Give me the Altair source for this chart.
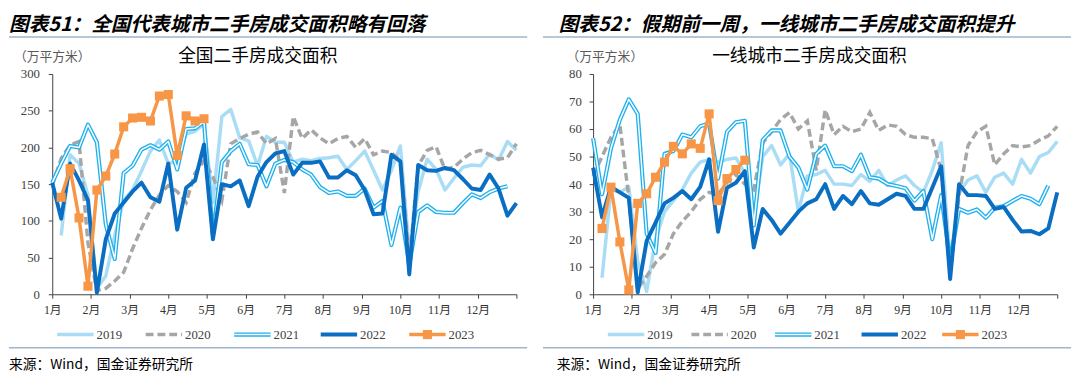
import json
import altair as alt
import pandas as pd

# ---------------- data ----------------
MONTH_LABELS = ["1月", "2月", "3月", "4月", "5月", "6月", "7月", "8月", "9月", "10月", "11月", "12月"]
WEEKS = list(range(53))
SERIES = ["2019", "2020", "2021", "2022", "2023"]

L2019 = [None, 80, 190, 178, 135, 8, 25, 80, 128, 142, 168, 195, 210, 178, 182, 218, 222, 232, 125, 242,
         252, 213, 209, 175, 215, 207, 207, 180, 184, 182, 185, 186, 188, 170, 182, 195, 169, 142, 169, 202,
         58, 140, 184, 170, 142, 158, 173, 176, 175, 191, 183, 208, 196]
L2020 = [148, 185, 203, 208, 70, 5, 8, 18, 30, 62, 90, 115, 135, 148, 140, 125, 165, 182, 160, 128,
         205, 212, 218, 221, 205, 212, 138, 242, 212, 224, 213, 205, 212, 215, 200, 212, 190, 195, 193, 182,
         45, 175, 196, 201, 170, 173, 184, 193, 196, 190, 184, 186, 205]
L2021 = [152, 178, 202, 200, 231, 207, 95, 48, 165, 175, 197, 203, 197, 208, 170, 225, 226, 235, 80, 180,
         195, 205, 177, 176, 147, 178, 183, 180, 170, 163, 146, 138, 140, 134, 134, 144, 118, 127, 67, 118,
         40, 112, 121, 112, 111, 111, 124, 136, 131, 139, 144, 147, None]
L2022 = [152, 103, 178, 155, 128, 2, 75, 110, 125, 140, 152, 132, 126, 178, 88, 145, 155, 204, 75, 150,
         147, 155, 120, 160, 180, 192, 195, 163, 179, 179, 181, 159, 159, 169, 162, 142, 109, 110, 190, 181,
         27, 176, 169, 168, 172, 169, 157, 144, 142, 163, 144, 107, 124]
L2023 = [None, 132, 171, 104, 11, 142, 161, 191, 228, 240, 241, 236, 270, 272, 189, 243, 236, 239]

R2019 = [None, 6, 38, 37, 39, 12, 1, 20, 30, 34, 38, 44, 48, 49, 48, 49, 49.5, 44, 27, 50,
         54, 47, 51, 30, 43, 43.5, 45, 40, 40, 39.5, 43.5, 41, 45, 39.5, 41.5, 43, 39.5, 37, 45, 55,
         12, 37, 41.5, 43, 37, 42.5, 44, 40, 49, 44, 50, 51.5, 55.5]
R2020 = [43, 50, 57, 61.5, 35, 2, 6.5, 11.5, 14.5, 22, 26.5, 30, 34.5, 37, 36.3, 40.5, 43.5, 40, 38, 55,
         59, 63.5, 66, 60, 63, 45, 67, 58, 61, 59, 60, 66, 59.5, 61.5, 61, 58, 57, 57, 56.5, 45,
         8, 36, 54, 59, 61, 47, 51, 54, 53.5, 54, 56, 57.5, 61]
R2021 = [56.7, 36.3, 53, 63.4, 70.8, 65.5, 22, 15, 51, 52, 58, 57, 61, 62, 42, 59, 62.5, 63, 25, 56,
         59.5, 59.5, 50, 46, 38, 51, 54, 46.5, 46.5, 44.7, 50.7, 42.5, 42, 40, 39.3, 38.5, 34, 37.5, 20, 36,
         12, 31, 29.6, 30.8, 27.8, 31.4, 32, 33.9, 35.7, 34.7, 32.7, 39.5, None]
R2022 = [46, 28, 39, 37, 35, 0.7, 19.4, 26, 33, 35, 37.5, 34.5, 39, 49, 22.7, 38.7, 40.5, 44.7, 17, 31,
         27, 22, 26, 30, 33, 34.5, 40, 31, 35.7, 32.7, 37.5, 33, 32.5, 34.5, 36.5, 35.7, 31, 31, 38.7, 46.5,
         5.5, 40, 36, 36, 35.7, 31, 31.7, 27, 22.8, 23, 21.8, 23.9, 37]
R2023 = [None, 23.9, 38.9, 19, 1.6, 33, 36.5, 42.5, 48, 53.7, 51, 54.6, 53, 65.5, 34, 42, 45.3, 48.7]

HEADERS = ["图表51：全国代表城市二手房成交面积略有回落", "图表52：假期前一周，一线城市二手房成交面积提升"]
CHART_TITLES = ["全国二手房成交面积", "一线城市二手房成交面积"]
UNIT = "（万平方米）"
SOURCE = "来源：Wind，国金证券研究所"

# ---------------- style ----------------
CJK = "Noto Sans CJK SC"
SERIF = "Liberation Serif, Noto Sans CJK SC"
C2019 = "#a9ddf5"
C2020 = "#a6a6a6"
C2021 = "#1eb1ee"
C2022 = "#0a6fc2"
C2023 = "#f79646"
AXC = "#404040"
RULEC = "#9fb5ca"
W, H = 472, 224
ONE = pd.DataFrame({"k": [0]})


def series_df(vals):
    rows = [{"m": w * 12 / 52, "v": v} for w, v in zip(WEEKS, vals) if v is not None]
    return pd.DataFrame(rows)


def txt(s, x, y, size, align="left", weight="normal", style="normal", color="#000", font=CJK):
    return alt.Chart(ONE).mark_text(align=align, baseline="middle", fontSize=size, fontWeight=weight,
                                    fontStyle=style, color=color, font=font).encode(
        x=alt.value(x), y=alt.value(y), text=alt.value(s))


def hline(x1, x2, y, color, width, dash=None, opacity=1):
    kw = dict(color=color, strokeWidth=width, opacity=opacity)
    if dash:
        kw["strokeDash"] = dash
    return alt.Chart(ONE).mark_rule(**kw).encode(x=alt.value(x1), x2=alt.value(x2), y=alt.value(y))


def panel(data, ymax, ystep, header, ctitle, hx, ux, tx, sx, lx, bl, br, ylabpad):
    label_expr = "datum.value < 12 ? " + json.dumps(MONTH_LABELS, ensure_ascii=False) + "[datum.value] : ''"
    xenc = alt.X("m:Q", scale=alt.Scale(domain=[0, 12], nice=False, zero=False),
                 axis=alt.Axis(values=list(range(13)), labelExpr=label_expr, title=None, grid=False,
                               tickSize=4, labelPadding=7, domainColor=AXC, tickColor=AXC,
                               labelColor="#333", labelFont=SERIF, labelFontSize=12, labelAngle=0,
                               labelFlush=False, labelOverlap=False))
    yenc = alt.Y("v:Q", scale=alt.Scale(domain=[0, ymax], nice=False, zero=True),
                 axis=alt.Axis(values=list(range(0, ymax + 1, ystep)), title=None, grid=False,
                               tickSize=4, labelPadding=ylabpad, domainColor=AXC, tickColor=AXC,
                               labelColor="#404040", labelFont=SERIF, labelFontSize=13))
    d19, d20, d21, d22, d23 = [series_df(v) for v in data]
    enc = dict(x=xenc, y=yenc)
    layers = [
        alt.Chart(d19).mark_line(color=C2019, strokeWidth=3.5, strokeJoin="round").encode(**enc),
        alt.Chart(d20).mark_line(color=C2020, strokeWidth=3.5, strokeDash=[8, 4]).encode(**enc),
        alt.Chart(d21).mark_line(color=C2021, strokeWidth=4.2, strokeJoin="round").encode(**enc),
        alt.Chart(d21).mark_line(color="white", strokeWidth=1.5, strokeJoin="round").encode(**enc),
        alt.Chart(d22).mark_line(color=C2022, strokeWidth=4, strokeJoin="round").encode(**enc),
        alt.Chart(d23).mark_line(color=C2023, strokeWidth=3.5, strokeJoin="round").encode(**enc),
        alt.Chart(d23).mark_point(shape="square", filled=True, size=85, color=C2023, opacity=1).encode(**enc),
    ]
    # invisible top anchor so both panels share the same top extent
    layers.append(hline(bl, br, -64, "#ffffff", 0.5, opacity=0))
    # header / titles / rules
    layers += [
        txt(header, hx, -50, 20, weight="bold", style="italic"),
        hline(bl, br, -37.5, RULEC, 1.5),
        txt(UNIT, ux, -17, 13, color="#595959"),
        txt(ctitle, tx, -17, 18, align="center"),
        hline(bl, br, 278.5, RULEC, 1.5),
        txt(SOURCE, sx, 295.5, 14),
    ]
    # legend
    ly = 265
    L = 37
    x0, x1, x2, x3, x4 = lx
    layers += [
        hline(x0, x0 + L, ly, C2019, 3.5),
        hline(x1, x1 + L, ly, C2020, 3.5, dash=[8, 4]),
        hline(x2, x2 + L, ly, C2021, 4.2),
        hline(x2, x2 + L, ly, "white", 1.5),
        hline(x3, x3 + L, ly, C2022, 4),
        hline(x4, x4 + L, ly, C2023, 3.5),
        alt.Chart(ONE).mark_point(shape="square", filled=True, size=85, color=C2023, opacity=1).encode(
            x=alt.value(x4 + L / 2), y=alt.value(ly)),
    ]
    for xs, name in zip(lx, SERIES):
        layers.append(txt(name, xs + L + 3, ly, 13, color="#404040", font=SERIF))
    return alt.layer(*layers).properties(width=W, height=H)


left = panel([L2019, L2020, L2021, L2022, L2023], 300, 50, HEADERS[0], CHART_TITLES[0],
             hx=-44, ux=-39, tx=209, sx=-44, lx=[5, 95, 185, 273, 363], bl=-44, br=483, ylabpad=9)
right = panel([R2019, R2020, R2021, R2022, R2023], 80, 10, HEADERS[1], CHART_TITLES[1],
              hx=-35, ux=-27, tx=220, sx=-37, lx=[15, 100, 185, 273, 355], bl=-51, br=486, ylabpad=8)

chart = alt.hconcat(left, right, spacing=14).properties(
    padding={"left": 0, "top": 0, "right": 0, "bottom": 0}
).configure_view(stroke=None)

chart.save("out.html", embed_options={"renderer": "svg", "actions": False})
